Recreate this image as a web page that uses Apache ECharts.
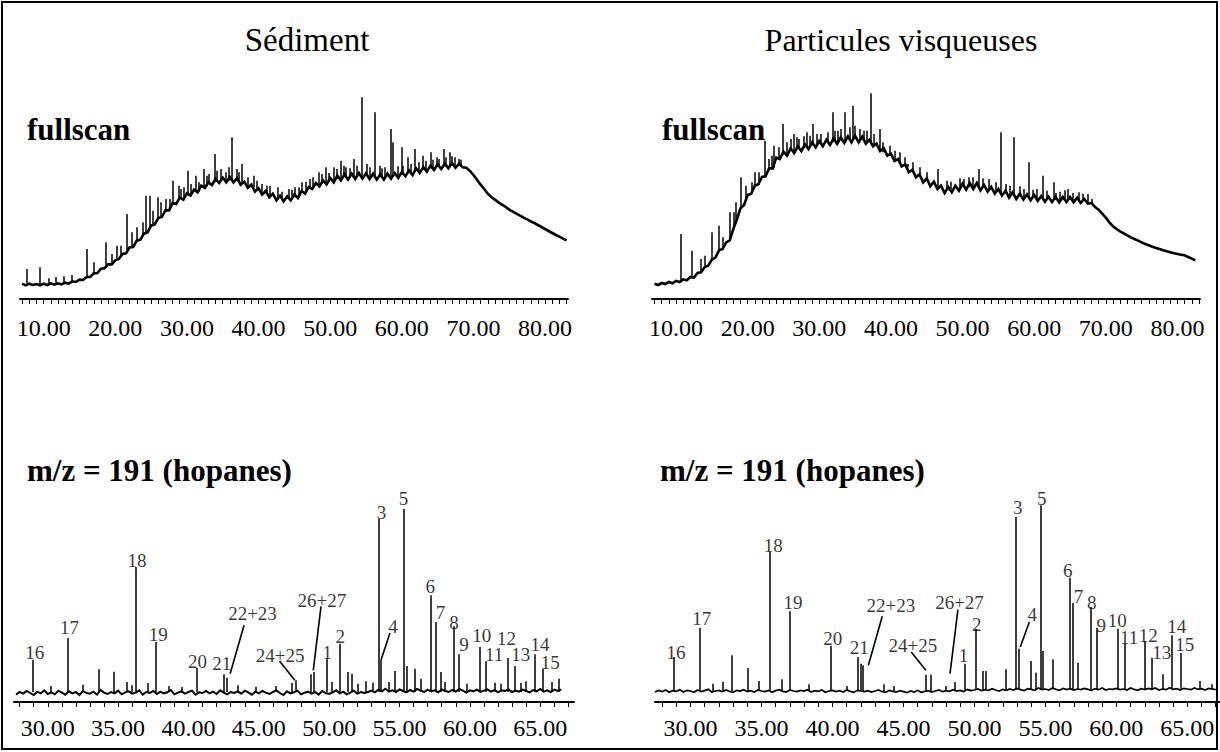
<!DOCTYPE html>
<html><head><meta charset="utf-8">
<script src="https://cdn.jsdelivr.net/npm/echarts@6/dist/echarts.min.js"></script>
<style>html,body{margin:0;padding:0;background:#fff}#c{width:1220px;height:752px}</style>
</head><body><div id="c"></div>
<script>
// ---------- text ----------
const panelTitles = ['Sédiment', 'Particules visqueuses'];
const topLabel = 'fullscan';
const bottomLabel = 'm/z = 191 (hopanes)';

// ---------- axis ticks ----------
const topTickLabels = [10, 20, 30, 40, 50, 60, 70, 80];
const topTicks = [7,8,9,10,11,12,13,14,15,16,17,18,19,20,21,22,23,24,25,26,27,28,29,30,31,32,33,34,35,36,37,38,39,40,41,42,43,44,45,46,47,48,49,50,51,52,53,54,55,56,57,58,59,60,61,62,63,64,65,66,67,68,69,70,71,72,73,74,75,76,77,78,79,80,81,82,83];
const botTickLabels = [30, 35, 40, 45, 50, 55, 60, 65];
const botTicks = [28,29,30,31,32,33,34,35,36,37,38,39,40,41,42,43,44,45,46,47,48,49,50,51,52,53,54,55,56,57,58,59,60,61,62,63,64,65,66,67];

// ---------- fullscan, sediment (retention time sampled every 0.5 min from 7.0) ----------
const tlStart = 7.0, tlStep = 0.5;
const tlSignal = [
 46,41,46,42,45,41,46,42,47,43,
 47,44,49,46,53,51,58,57,66,66,
 77,78,91,92,104,104,116,120,135,137,
 155,156,175,178,196,200,220,224,243,246,
 266,266,288,285,304,298,317,310,328,320,
 340,333,350,342,360,348,364,350,366,350,
 362,343,352,334,343,322,332,313,324,305,
 316,296,310,293,308,296,314,303,324,316,
 336,330,348,338,356,344,363,350,370,356,
 374,358,376,360,378,361,377,360,376,358,
 374,358,376,361,378,363,381,368,386,372,
 392,378,396,382,400,387,404,390,406,392,
 408,394,406,395,394,384,372,358,343,330,
 316,306,298,290,283,276,268,262,256,250,
 244,239,233,228,222,216,210,204,198,192,
 187,181,176];
// peaks: [time, foot, apex]
const tlPeaks = [
 [7.64,44,90],[9.40,43,95],[10.74,44,62],[11.69,45,66],[12.74,47,68],[13.89,50,72],[16.05,66,150],
 [17.0,75,110],[18.72,95,170],[19.5,104,135],[20.18,118,160],[20.8,125,160],[21.64,145,255],[22.28,155,200],
 [23.0,172,215],[23.8,190,230],[24.31,200,310],[24.84,210,310],[25.3,222,265],[25.90,240,305],[26.3,243,290],
 [27.0,262,300],[27.6,266,300],[28.03,285,355],[28.89,300,340],[29.2,300,330],[29.6,305,335],[30.16,315,385],
 [30.6,312,345],[31.23,325,370],[31.7,322,350],[32.35,335,390],[32.8,338,370],[33.0,345,375],[33.89,350,435],
 [34.2,352,385],[34.69,355,390],[35.4,355,380],[35.8,355,395],[36.29,358,485],[36.9,355,390],[37.3,350,380],
 [37.62,348,405],[38.5,340,365],[39.28,335,370],[39.8,330,355],[40.5,318,345],[41.1,318,340],[41.6,310,340],
 [42.74,303,335],[43.3,300,322],[44.2,300,330],[44.7,300,328],[45.0,305,335],[45.6,308,335],[46.09,318,350],
 [46.6,320,352],[47.2,330,360],[47.6,332,365],[48.40,340,380],[48.8,345,375],[49.34,350,395],[49.8,352,378],
 [50.50,357,395],[50.9,360,390],[51.46,362,415],[51.9,365,400],[52.2,365,395],[52.7,367,392],[53.32,366,420],
 [53.7,368,400],[54.39,368,605],[55.12,368,405],[55.5,367,395],[56.26,366,560],[56.90,365,400],[57.2,365,392],
 [57.6,365,395],[58.39,367,510],[58.68,367,470],[59.4,370,398],[59.98,372,455],[60.2,374,400],[60.78,376,425],
 [61.3,380,405],[61.85,382,450],[62.4,385,410],[62.91,387,430],[63.4,389,415],[63.98,392,440],[64.3,392,418],
 [64.87,396,425],[65.2,396,420],[65.84,398,450],[66.1,399,425],[66.63,400,440],[67.0,400,428],[67.39,400,425],
 [67.9,400,420],[68.2,398,418]];

// ---------- fullscan, viscous particles ----------
const trStart = 7.0, trStep = 0.5;
const trSignal = [
 46,42,48,45,51,47,54,51,59,56,
 66,64,78,80,96,100,118,124,146,150,
 170,176,210,238,272,282,312,316,340,344,
 366,368,392,392,424,420,442,430,452,438,
 458,444,464,450,470,455,474,458,478,462,
 482,465,485,468,488,470,490,470,487,466,
 478,458,466,444,452,430,436,414,420,398,
 404,380,388,365,374,350,362,338,352,330,
 340,318,336,320,340,325,346,328,348,330,
 348,326,342,322,336,316,330,310,325,304,
 320,300,316,298,314,296,312,294,309,292,
 307,291,306,290,306,291,306,290,304,288,
 300,286,288,276,268,256,244,230,218,210,
 203,197,191,185,180,175,170,165,161,157,
 153,150,146,143,140,137,135,133,131,126,
 121,116];
const trPeaks = [
 [10.65,57,195],[12.14,62,145],[13.41,85,120],[14.0,96,130],[15.06,115,200],[15.90,140,220],[16.5,148,185],
 [17.55,175,260],[18.0,210,260],[18.4,235,290],[19.09,272,365],[19.8,300,340],[20.6,316,350],[21.0,340,380],
 [21.6,342,380],[22.41,367,475],[22.9,385,420],[23.3,392,430],[23.61,392,460],[24.3,422,455],[24.88,432,525],
 [25.5,432,470],[26.0,445,480],[26.38,440,495],[26.8,450,485],[27.2,450,480],[27.8,452,488],[28.31,452,500],
 [28.7,458,490],[29.13,460,525],[29.6,462,495],[30.2,465,495],[31.2,470,500],[31.89,470,560],[32.2,475,505],
 [32.6,472,505],[33.0,475,510],[33.55,475,560],[34.2,480,515],[34.65,478,580],[35.0,480,520],[35.6,478,510],
 [36.2,475,505],[36.6,472,505],[37.13,470,617],[37.6,462,495],[38.51,450,510],[38.9,440,470],[39.9,430,460],
 [40.5,420,445],[41.2,410,440],[42.0,402,425],[42.38,395,405],[43.0,385,410],[44.0,370,395],[45.0,355,380],
 [46.52,335,390],[47.8,330,355],[48.4,330,352],[49.6,335,362],[50.2,337,360],[50.92,335,365],[51.4,338,365],
 [52.31,335,390],[52.8,335,362],[53.6,330,360],[54.6,322,350],[55.34,318,500],[56.0,315,345],[56.6,312,340],
 [57.17,312,485],[58.0,308,338],[58.6,306,330],[59.21,305,410],[59.8,304,328],[60.4,302,330],[61.14,300,370],
 [61.8,300,325],[62.79,298,350],[63.0,298,318],[63.6,298,322],[64.2,298,326],[64.72,298,330],[65.4,296,318],
 [66.2,296,320],[66.8,294,316],[67.49,290,315],[68.1,285,300]];

// ---------- m/z 191, sediment (sampled every 0.25 min from 27.75) ----------
const blStart = 27.75, blStep = 0.25;
const blSignal = [
 22,30,25,33,27,21,31,26,35,24,
 29,23,34,28,22,32,26,30,21,33,
 27,25,31,22,36,28,24,30,26,34,
 23,29,32,25,28,35,22,30,27,33,
 24,31,26,29,36,23,28,32,25,30,
 34,22,29,27,33,26,31,24,35,28,
 23,30,27,32,25,34,29,22,31,26,
 33,28,24,30,35,27,21,32,26,29,
 34,23,28,31,25,30,22,33,27,24,
 29,35,26,31,23,28,34,25,30,27,
 30,34,29,37,32,40,31,35,30,38,
 33,29,36,31,39,34,30,37,32,35,
 29,38,33,30,36,31,39,34,28,35,
 32,37,30,34,38,31,36,29,35,33,
 38,30,34,31,37,33,29,36,32,39,
 31,35,30,37,33,38];
const blPeaks = [
 [28.96,30,127],[30.2,28,48],[31.40,30,192],[32.5,30,52],[33.61,30,98],[34.71,30,91],[35.58,30,60],
 [36.0,30,50],[36.27,30,405],[37.09,30,57],[37.66,30,180],[38.6,30,48],[39.5,28,45],[40.59,30,102],
 [42.48,30,83],[42.75,30,73],[43.5,30,50],[44.8,28,46],[46.2,30,48],[47.35,30,57],[47.62,30,65],
 [48.66,30,83],[48.93,30,90],[49.83,30,130],[50.2,30,60],[50.76,30,175],[51.31,30,90],[51.59,30,85],
 [52.0,30,55],[52.6,30,62],[53.1,30,58],[53.55,30,550],[53.69,30,127],[54.2,30,60],[54.68,30,93],
 [55.28,30,580],[55.49,30,108],[56.10,30,100],[56.5,30,70],[57.25,30,320],[57.55,30,240],
 [57.96,30,90],[58.2,30,60],[58.86,30,227],[59.18,30,143],[59.8,30,55],[60.69,30,165],[61.15,30,122],
 [61.8,30,58],[62.2,30,55],[62.66,30,132],[63.20,30,108],[63.6,30,57],[64.0,30,62],[64.58,30,143],
 [65.21,30,100],[65.8,30,60],[66.35,30,70]];
const blNames = [
 ['16',29.08,150],['17',31.54,225],['18',36.35,425],['19',37.85,202],['20',40.64,123],['21',42.37,115],
 ['22+23',44.55,265],['24+25',46.52,140],['26+27',49.48,305],['1',49.86,150],['2',50.79,197],
 ['3',53.72,570],['4',54.53,227],['5',55.28,612],['6',57.19,347],['7',57.91,270],['8',58.88,240],
 ['9',59.58,173],['10',60.84,200],['11',61.72,142],['12',62.61,190],['13',63.62,143],['14',64.99,173],
 ['15',65.72,120]];
const blLeaders = [
 [[43.95,230],[42.96,85]], [[46.47,123],[47.56,65]], [[49.42,287],[48.87,95]], [[54.32,207],[53.69,127]]];

// ---------- m/z 191, viscous particles (sampled every 0.25 min from 27.5) ----------
const brStart = 27.5, brStep = 0.25;
const brSignal = [
 30,35,31,36,29,34,32,37,30,35,
 33,29,36,31,34,38,30,33,35,31,
 36,32,29,35,33,37,31,34,30,36,
 33,31,35,29,34,37,32,30,36,33,
 31,35,33,37,30,34,32,36,29,33,
 35,31,34,30,36,32,29,35,33,31,
 34,30,33,36,31,29,35,32,30,34,
 31,28,33,30,35,29,32,34,30,33,
 36,31,34,32,37,33,35,31,38,34,
 36,39,34,37,35,40,36,33,38,35,
 39,36,41,37,34,40,38,35,42,37,
 39,36,42,38,35,41,37,40,36,39,
 37,41,38,35,40,37,42,36,39,38,
 41,37,39,36,42,38,35,40,37,41,
 38,42,36,39,37,43,38,40,36,41,
 39,37,42,38,40,36,41,39,37];
const brPeaks = [
 [28.79,33,135],[30.66,33,222],[31.55,33,55],[32.30,33,61],[32.90,33,140],[34.00,33,102],[34.80,33,63],
 [35.59,33,450],[36.40,33,68],[37.00,33,272],[38.30,33,53],[39.90,33,168],[41.00,33,48],
 [41.80,33,135],[42.00,33,115],[42.10,33,110],[43.60,33,53],[44.30,33,48],[46.60,33,82],[46.90,33,82],
 [48.00,33,48],[48.60,35,60],[49.30,35,115],[50.10,36,220],[50.60,36,93],[50.80,36,93],[52.20,37,98],
 [52.92,37,555],[53.10,37,160],[54.00,37,123],[54.30,37,88],[54.68,38,590],[54.80,38,153],[55.50,38,128],
 [56.70,38,373],[56.90,38,297],[57.30,38,118],[58.20,38,285],[58.60,38,222],[60.10,38,220],[60.60,38,175],
 [62.00,38,182],[62.50,38,133],[63.30,38,83],[63.90,38,200],[64.50,38,147],[65.90,38,63],[66.70,38,53]];
const brNames = [
 ['16',28.98,150],['17',30.80,250],['18',35.83,470],['19',37.22,300],['20',40.02,190],['21',41.89,165],
 ['22+23',44.12,290],['24+25',45.66,170],['26+27',48.95,298],['1',49.23,140],['2',50.16,232],
 ['3',53.06,585],['4',54.07,263],['5',54.74,610],['6',56.58,395],['7',57.33,317],['8',58.26,298],
 ['9',58.93,230],['10',60.07,245],['11',60.90,195],['12',62.25,200],['13',63.20,150],['14',64.26,227],
 ['15',64.82,172]];
const brLeaders = [
 [[43.51,257],[42.53,110]], [[45.55,150],[46.58,95]], [[48.84,277],[48.28,85]], [[53.87,240],[53.23,165]]];

// ---------- build ----------
const SERIF = "Liberation Serif, Times New Roman, serif";
function sampled(start, step, arr) { return arr.map((v, i) => [+(start + i * step).toFixed(3), v]); }
function spikes(arr) { return arr.map(p => ({ coords: [[p[0], p[1]], [p[0], p[2]]] })); }

const panels = [
  { grid: { left: 20, top: 88, width: 548, height: 211 }, min: 6.7, max: 83.2, ymax: 633,
    ticks: topTicks, labels: topTickLabels, margin: 17,
    signal: sampled(tlStart, tlStep, tlSignal), peaks: tlPeaks, lw: 2.6 },
  { grid: { left: 652, top: 88, width: 548, height: 211 }, min: 6.65, max: 83.15, ymax: 633,
    ticks: topTicks, labels: topTickLabels, margin: 17,
    signal: sampled(trStart, trStep, trSignal), peaks: trPeaks, lw: 2.6 },
  { grid: { left: 14, top: 490, width: 560, height: 212 }, min: 27.6, max: 67.4, ymax: 636,
    ticks: botTicks, labels: botTickLabels, margin: 14,
    signal: sampled(blStart, blStep, blSignal), peaks: blPeaks, lw: 2.0, names: blNames, leaders: blLeaders },
  { grid: { left: 655, top: 490, width: 565, height: 212 }, min: 27.5, max: 67.3, ymax: 636,
    ticks: botTicks, labels: botTickLabels, margin: 14,
    signal: sampled(brStart, brStep, brSignal), peaks: brPeaks, lw: 1.7, names: brNames, leaders: brLeaders }
];

const option = {
  animation: false,
  backgroundColor: '#fff',
  grid: panels.map(p => p.grid),
  xAxis: panels.map((p, i) => ({
    type: 'value', gridIndex: i, min: p.min, max: p.max,
    axisLine: { show: true, onZero: false, lineStyle: { color: '#000', width: 2 } },
    axisTick: { show: true, customValues: p.ticks, length: 5, lineStyle: { color: '#000', width: 1 } },
    axisLabel: { customValues: p.labels, formatter: v => Number(v).toFixed(2), fontFamily: SERIF,
      fontSize: 24, color: '#000', margin: p.margin },
    splitLine: { show: false }
  })),
  yAxis: panels.map((p, i) => ({ type: 'value', gridIndex: i, min: 0, max: p.ymax, show: false })),
  series: [],
  graphic: [
    { type: 'text', style: { x: 307, y: 40, text: panelTitles[0], textAlign: 'center', textVerticalAlign: 'middle',
      fontFamily: SERIF, fontSize: 33, fill: '#000' } },
    { type: 'text', style: { x: 901, y: 40, text: panelTitles[1], textAlign: 'center', textVerticalAlign: 'middle',
      fontFamily: SERIF, fontSize: 32, fill: '#000' } },
    { type: 'text', style: { x: 27, y: 129, text: topLabel, textVerticalAlign: 'middle',
      fontFamily: SERIF, fontWeight: 'bold', fontSize: 31, fill: '#000' } },
    { type: 'text', style: { x: 662, y: 129, text: topLabel, textVerticalAlign: 'middle',
      fontFamily: SERIF, fontWeight: 'bold', fontSize: 31, fill: '#000' } },
    { type: 'text', style: { x: 27, y: 470, text: bottomLabel, textVerticalAlign: 'middle',
      fontFamily: SERIF, fontWeight: 'bold', fontSize: 31, fill: '#000' } },
    { type: 'text', style: { x: 660, y: 470, text: bottomLabel, textVerticalAlign: 'middle',
      fontFamily: SERIF, fontWeight: 'bold', fontSize: 31, fill: '#000' } },
    { type: 'rect', z: 100, shape: { x: 2, y: 2, width: 1215, height: 747 },
      style: { fill: null, stroke: '#000', lineWidth: 2 } }
  ]
};

panels.forEach((p, i) => {
  option.series.push({
    type: 'line', xAxisIndex: i, yAxisIndex: i, data: p.signal, showSymbol: false, symbol: 'none',
    lineStyle: { color: '#000', width: p.lw, join: 'miter' }, silent: true
  });
  option.series.push({
    type: 'lines', coordinateSystem: 'cartesian2d', xAxisIndex: i, yAxisIndex: i, data: spikes(p.peaks),
    lineStyle: { color: '#000', width: 1.5, opacity: 1 }, silent: true
  });
  if (p.names) {
    option.series.push({
      type: 'scatter', xAxisIndex: i, yAxisIndex: i, symbolSize: 0, silent: true,
      itemStyle: { color: '#000' },
      data: p.names.map(n => ({ name: n[0], value: [n[1], n[2]] })),
      label: { show: true, position: 'inside', formatter: '{b}', fontFamily: SERIF, fontSize: 19, color: '#000',
        textBorderWidth: 0, textBorderColor: 'transparent' }
    });
    option.series.push({
      type: 'lines', coordinateSystem: 'cartesian2d', xAxisIndex: i, yAxisIndex: i, silent: true,
      data: p.leaders.map(l => ({ coords: l })),
      lineStyle: { color: '#000', width: 1.6, opacity: 1 }
    });
  }
});

const chart = echarts.init(document.getElementById('c'), null, { renderer: 'svg', width: 1220, height: 752 });
chart.setOption(option);
</script>
</body></html>
